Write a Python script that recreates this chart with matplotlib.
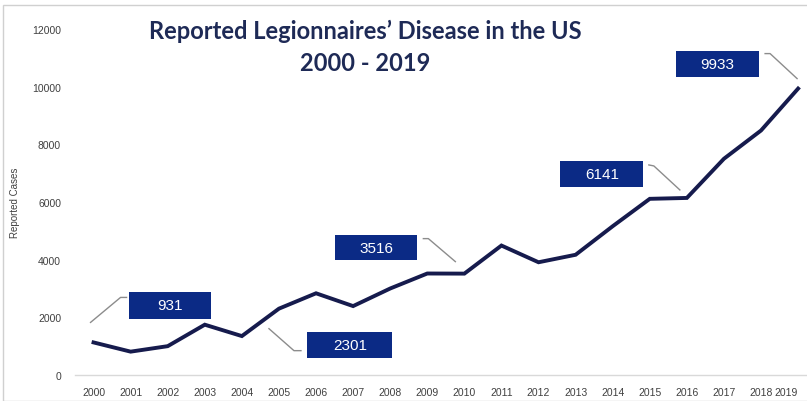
import matplotlib.pyplot as plt
from matplotlib.patches import Rectangle
from matplotlib.lines import Line2D
from matplotlib.transforms import IdentityTransform

years = list(range(2000, 2020))
cases = [1130, 810, 1000, 1745, 1350, 2301, 2834, 2390, 3000, 3520,
         3516, 4490, 3910, 4170, 5160, 6110, 6141, 7500, 8480, 9933]

# callouts: label, year it hangs off, connector path and box centre as pixel
# offsets from that point (x right, y down), box size in pixels
callouts = [
    ("931", 2000, [(-3, -20), (27, -45), (33, -45)], (76, -37), (82, 27)),
    ("2301", 2005, [(-10, 20), (15, 42), (22, 42)], (71, 36), (85, 26)),
    ("3516", 2010, [(-9, -12), (-36, -35), (-41, -35)], (-88, -26), (82, 25)),
    ("6141", 2016, [(-7, -8), (-33, -32), (-38, -33)], (-85, -24), (83, 26)),
    ("9933", 2019, [(-1, -10), (-28, -35), (-33, -35)], (-81, -25), (83, 26)),
]

LINE = "#161b4d"
BOX = "#0b2a85"
TITLE = "#1e2a56"
TICK = "#404040"

W, H, DPI = 807, 402, 100
fig = plt.figure(figsize=(W / DPI, H / DPI), dpi=DPI)
fig.patch.set_facecolor("white")

# plot area in pixels: left 75, bottom 376, top 30
ax = fig.add_axes([75 / W, (H - 376) / H, (W - 75) / W, (376 - 30) / H])
ax.plot(years, cases, color=LINE, linewidth=2.8, solid_joinstyle="miter",
        zorder=3)
ax.set_xlim(1999.5, 2019.24)
ax.set_ylim(0, 12000)
ax.set_xticks(years)
ax.set_xticklabels([str(y) for y in years])
ax.set_yticks(range(0, 12001, 2000))
ax.tick_params(length=0, labelsize=7.5, colors=TICK)
ax.tick_params(axis="x", pad=9)
ax.tick_params(axis="y", pad=10)
for lab in ax.get_xticklabels() + ax.get_yticklabels():
    lab.set_family("Liberation Sans")
# last year sits on the right edge, keep it inside the canvas
ax.get_xticklabels()[-1].set_horizontalalignment("right")
ax.get_xticklabels()[-1].set_x(2019.2)
for side in ("top", "right", "left"):
    ax.spines[side].set_visible(False)
ax.spines["bottom"].set_color("#d9d9d9")
ax.spines["bottom"].set_linewidth(1.0)
ax.set_ylabel("Reported Cases", fontsize=7, color=TICK,
              family="Liberation Sans")
ax.yaxis.set_label_coords((20 - 75) / (W - 75), 0.5)

# thin frame round the whole graphic
fig.patches.append(Rectangle((3 / W, 0), 1, (H - 6) / H, transform=fig.transFigure,
                             fill=False, edgecolor="#d0d0d0", linewidth=1.0))

fig.text(365 / W, 1 - 31 / H, "Reported Legionnaires\u2019 Disease in the US",
         ha="center", va="center", fontsize=17, fontweight="bold",
         family="Lato", color=TITLE)
fig.text(365 / W, 1 - 64 / H, "2000 - 2019", ha="center", va="center",
         fontsize=17, fontweight="bold", family="Lato", color=TITLE)

fig.canvas.draw()
ident = IdentityTransform()
for label, yr, path, centre, size in callouts:
    px, py = ax.transData.transform((yr, cases[years.index(yr)]))
    xs = [px + dx for dx, dy in path]
    ys = [py - dy for dx, dy in path]
    fig.lines.append(Line2D(xs, ys, transform=ident, color="#8c8c8c",
                            linewidth=1.0, figure=fig))
    cx, cy = px + centre[0], py - centre[1]
    bw, bh = size
    fig.patches.append(Rectangle((cx - bw / 2, cy - bh / 2), bw, bh,
                                 transform=ident, facecolor=BOX,
                                 edgecolor="none", figure=fig))
    fig.text(cx / W, cy / H, label, ha="center", va="center", fontsize=11,
             color="white", family="Liberation Sans")

fig.savefig("out.png", dpi=DPI)
